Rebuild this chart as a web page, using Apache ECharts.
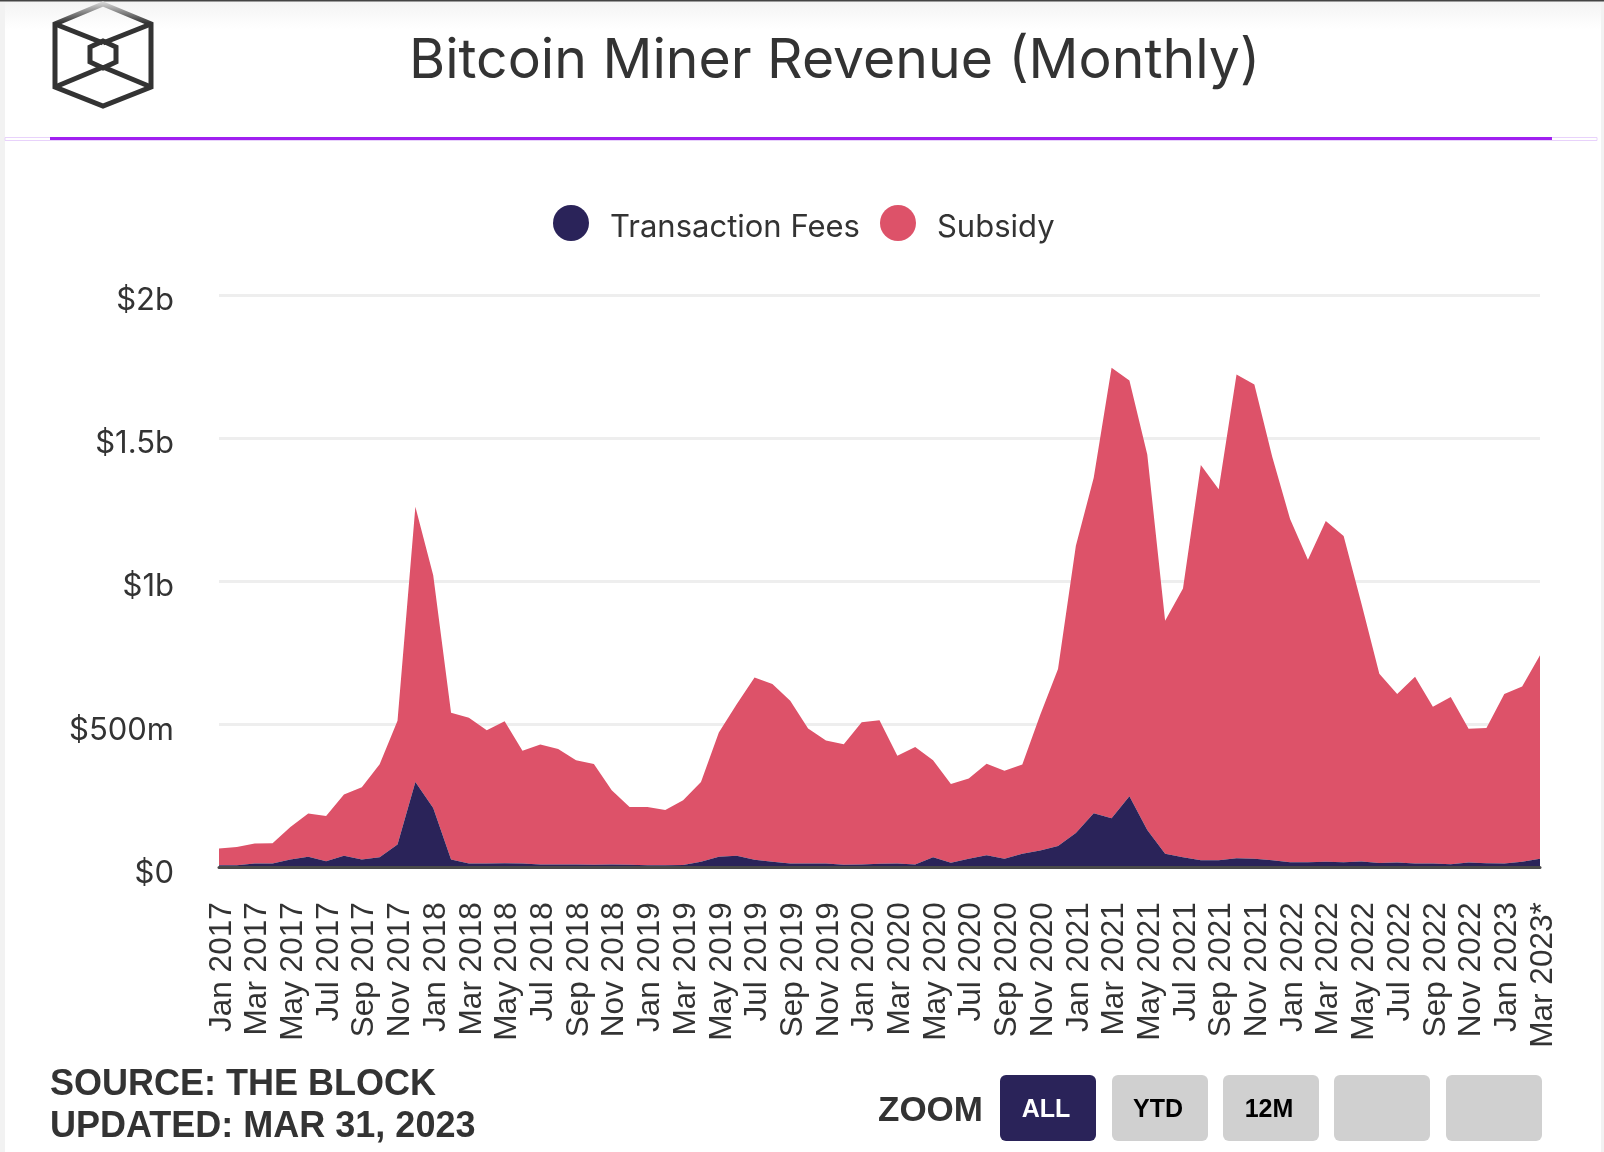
<!DOCTYPE html>
<html><head><meta charset="utf-8"><style>html,body{margin:0;padding:0;background:#fff}#c{width:1604px;height:1152px}</style>
<script src="https://cdn.jsdelivr.net/npm/echarts@6/dist/echarts.min.js"></script></head>
<body><div id="c"></div><script>
const categories = [
'Jan 2017','Feb 2017','Mar 2017','Apr 2017','May 2017','Jun 2017','Jul 2017','Aug 2017','Sep 2017','Oct 2017','Nov 2017','Dec 2017',
'Jan 2018','Feb 2018','Mar 2018','Apr 2018','May 2018','Jun 2018','Jul 2018','Aug 2018','Sep 2018','Oct 2018','Nov 2018','Dec 2018',
'Jan 2019','Feb 2019','Mar 2019','Apr 2019','May 2019','Jun 2019','Jul 2019','Aug 2019','Sep 2019','Oct 2019','Nov 2019','Dec 2019',
'Jan 2020','Feb 2020','Mar 2020','Apr 2020','May 2020','Jun 2020','Jul 2020','Aug 2020','Sep 2020','Oct 2020','Nov 2020','Dec 2020',
'Jan 2021','Feb 2021','Mar 2021','Apr 2021','May 2021','Jun 2021','Jul 2021','Aug 2021','Sep 2021','Oct 2021','Nov 2021','Dec 2021',
'Jan 2022','Feb 2022','Mar 2022','Apr 2022','May 2022','Jun 2022','Jul 2022','Aug 2022','Sep 2022','Oct 2022','Nov 2022','Dec 2022',
'Jan 2023','Feb 2023','Mar 2023*'];
const transactionFees = [7,7,13,13,27,37,21,40,27,35,80,298,207,27,13,13,14,13,10,10,10,9,10,9,7,7,8,19,37,40,26,19,13,13,13,9,10,12,13,10,35,16,30,42,30,47,59,74,120,189,171,248,130,47,35,25,25,32,30,25,18,18,19,18,20,15,17,13,13,11,17,14,13,19,30];
const subsidy = [59,64,70,71,114,151,158,214,253,325,432,962,814,513,510,466,496,394,419,403,364,352,259,202,204,193,226,279,434,530,637,622,569,472,430,421,497,502,377,410,339,275,280,320,307,312,473,619,1004,1172,1575,1453,1313,815,939,1381,1296,1690,1657,1410,1199,1057,1191,1140,901,661,589,653,548,584,467,473,593,613,711];
const yTickLabels = {0:'$0',500:'$500m',1000:'$1b',1500:'$1.5b',2000:'$2b'};
const zoomButtons = ['ALL','YTD','12M','',''];
const NAVY='#2a2359', PINK='#dd5269', INK='#333333';
const UI='Inter, "Noto Sans", sans-serif', HV='"Liberation Sans", Arial, sans-serif';

const chart = echarts.init(document.getElementById('c'), null, {renderer:'canvas', width:1604, height:1152});

function rect(x,y,w,h,fill,extra){return Object.assign({type:'rect',shape:{x,y,width:w,height:h},style:{fill},silent:true},extra||{});}
const logoFade={type:'linear',x:0,y:0,x2:0,y2:1,global:false,colorStops:[{offset:0,color:'#dcdcdc'},{offset:.2,color:'#333333'},{offset:1,color:'#333333'}]};
function logoLine(points,stroke){return {type:'polyline',shape:{points},style:{fill:null,stroke:stroke||'#333333',lineWidth:5,lineJoin:'miter'},silent:true};}
const graphics=[
  rect(0,0,1604,1152,'#ffffff',{z:-10}),
  rect(0,1,1604,28,new echarts.graphic.LinearGradient(0,0,0,1,[{offset:0,color:'#f3f3f3'},{offset:1,color:'#ffffff'}]),{z:-9}),
  rect(0,0,5,1152,'#f2f2f2',{z:-8}),
  rect(1601,0,3,1152,'#f2f2f2',{z:-8}),
  rect(0,0,1604,1.5,'#444444',{z:-7}),
  {type:'rect',shape:{x:5,y:137.5,width:1592,height:3},style:{fill:null,stroke:'#e8d2fb',lineWidth:1},silent:true},
  rect(50,137,1502,3,'#a020f0'),
  // logo
  {type:'polygon',shape:{points:[[103,4],[151,24],[151,87],[103,106],[55,87],[55,24]]},style:{fill:null,stroke:logoFade,lineWidth:5},silent:true},
  {type:'polygon',shape:{points:[[103,41],[116,47],[116,62],[103,68],[90,62],[90,47]]},style:{fill:null,stroke:'#333333',lineWidth:5},silent:true},
  logoLine([[55,24],[103,43]]),logoLine([[151,24],[103,43]]),
  logoLine([[55,87],[103,67]]),logoLine([[151,87],[103,67]]),
  // footer
  {type:'text',style:{text:'SOURCE: THE BLOCK',x:50,y:1085,fill:INK,font:'bold 36px '+HV,textVerticalAlign:'middle'},silent:true},
  {type:'text',style:{text:'UPDATED: MAR 31, 2023',x:50,y:1127,fill:INK,font:'bold 36px '+HV,textVerticalAlign:'middle'},silent:true},
  {type:'text',style:{text:'ZOOM',x:878,y:1111,fill:INK,font:'bold 35px '+HV,textVerticalAlign:'middle'},silent:true}
];
const btnX=[1000,1112,1223,1334,1446];
zoomButtons.forEach((t,i)=>{
  graphics.push({type:'rect',shape:{x:btnX[i],y:1075,width:96,height:66,r:6},style:{fill:i===0?NAVY:'#d0d0d0'},silent:true});
  if(t)graphics.push({type:'text',style:{text:t,x:btnX[i]+46,y:1110,fill:i===0?'#ffffff':'#000000',font:'bold 25px '+HV,textAlign:'center',textVerticalAlign:'middle'},silent:true,z:5});
});

chart.setOption({
  animation:false,
  backgroundColor:'transparent',
  title:{text:'Bitcoin Miner Revenue (Monthly)',left:404,top:29,textStyle:{color:INK,fontFamily:UI,fontWeight:400,fontSize:55.3}},
  legend:{left:548,top:200,itemWidth:36,itemHeight:36,itemGap:20,icon:'circle',
    formatter:'{a|{name}}',
    textStyle:{rich:{a:{color:INK,fontFamily:UI,fontSize:31,fontWeight:400,padding:[10,0,0,16]}}},
    data:['Transaction Fees','Subsidy']},
  grid:{left:219,right:64,top:295,bottom:284.7,containLabel:false},
  xAxis:{type:'category',boundaryGap:false,data:categories,z:6,
    axisTick:{show:false},
    axisLine:{show:true,onZero:true,lineStyle:{color:'#4a4a4a',width:3}},
    axisLabel:{rotate:90,interval:1,margin:35,color:INK,fontFamily:HV,fontSize:31.5,verticalAlign:'top',lineHeight:6,hideOverlap:false,showMinLabel:true,showMaxLabel:true},
    splitLine:{show:false}},
  yAxis:{type:'value',min:0,max:2000,interval:500,
    axisLine:{show:false},axisTick:{show:false},
    axisLabel:{margin:45,color:INK,fontFamily:UI,fontSize:31,fontWeight:400,verticalAlign:'top',lineHeight:12,formatter:v=>yTickLabels[v]},
    splitLine:{show:true,lineStyle:{color:'#eeeeee',width:3}}},
  series:[
    {name:'Transaction Fees',type:'line',stack:'rev',data:transactionFees,symbol:'none',smooth:false,
      itemStyle:{color:NAVY},lineStyle:{width:0,color:NAVY},areaStyle:{color:NAVY,opacity:1},z:4},
    {name:'Subsidy',type:'line',stack:'rev',data:subsidy,symbol:'none',smooth:false,
      itemStyle:{color:PINK},lineStyle:{width:0,color:PINK},areaStyle:{color:PINK,opacity:1},z:3}
  ],
  graphic:{elements:graphics}
});
</script></body></html>
